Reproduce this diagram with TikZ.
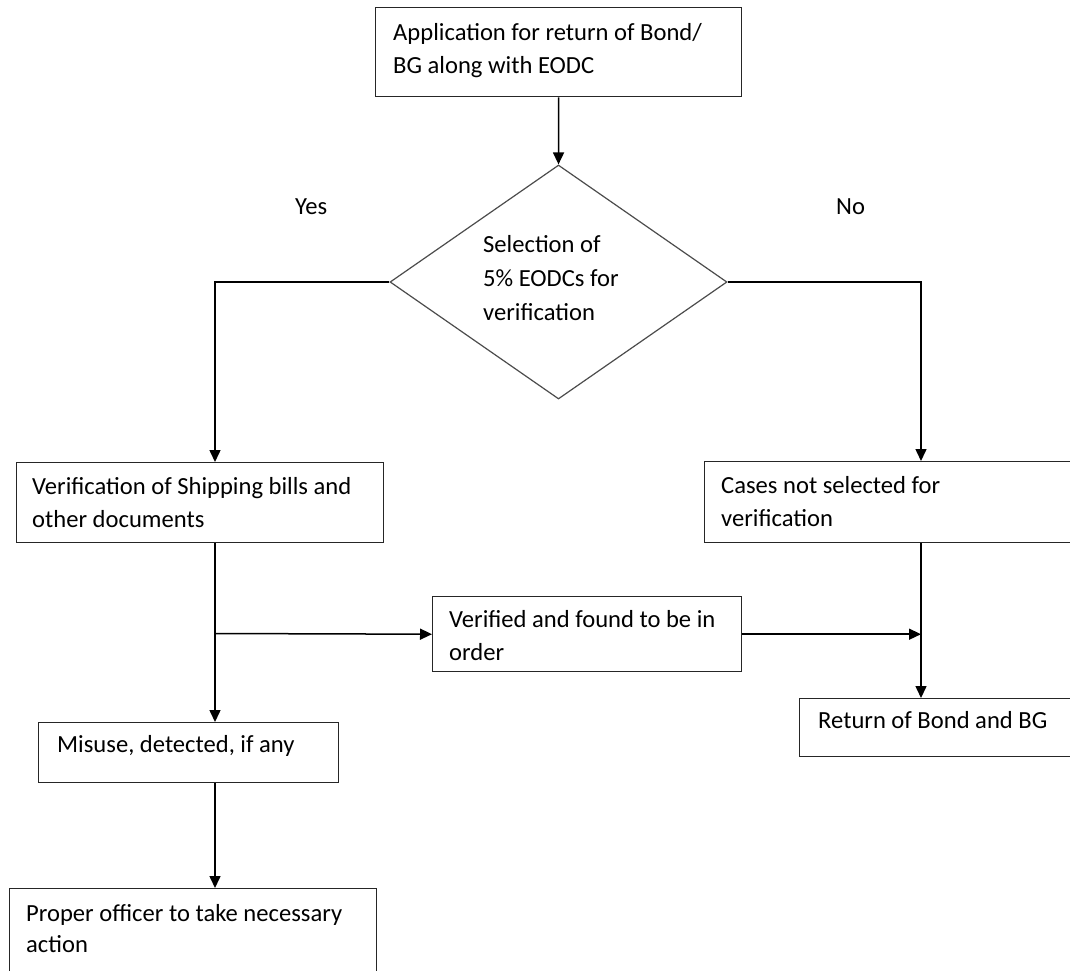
\documentclass[tikz,border=0pt]{standalone}
\usepackage{fontspec}
\setmainfont{Carlito}
\usetikzlibrary{shapes.geometric,arrows.meta}

\newcommand{\flowfont}{\fontsize{24.6}{33}\selectfont}

\tikzset{
  box/.style={draw=black!85, line width=1.4pt, rectangle, inner sep=0pt, anchor=north west},
  decision/.style={draw=black!70, line width=1.2pt, diamond, inner sep=0pt},
  txt/.style={anchor=north west, inner sep=0pt, align=left, font=\flowfont},
  txtline/.style={anchor=base west, inner sep=0pt, font=\flowfont},
  flow/.style={draw=black, line width=1.5pt, -{Triangle[length=12pt,width=11pt]}},
  link/.style={draw=black, line width=1.5pt}
}

\begin{document}
\begin{tikzpicture}[x=1pt, y=-1pt]
  \clip (0,0) rectangle (1070,970);
  \fill[white] (0,0) rectangle (1070,970);

  % boxes (outline only)
  \node[box, minimum width=366pt, minimum height=89pt] (app) at (375,7) {};
  \node[decision, minimum width=337pt, minimum height=234pt] (sel) at (558.5,282) {};
  \node[box, minimum width=367pt, minimum height=80pt] (ver) at (16,462) {};
  \node[box, minimum width=380pt, minimum height=81pt] (cas) at (704,461) {};
  \node[box, minimum width=309pt, minimum height=75pt] (vio) at (432,596) {};
  \node[box, minimum width=300pt, minimum height=60pt] (mis) at (38,722) {};
  \node[box, minimum width=290pt, minimum height=58pt] (ret) at (799,698) {};
  \node[box, minimum width=367pt, minimum height=110pt] (pro) at (9,888) {};

  % box texts
  \node[txt] (tapp) at (393,16.9) {\strut Application for return of Bond/\\BG along with EODC};
  \node[txt, font=\fontsize{24.6}{34}\selectfont] (tsel) at (483,228.9) {\strut Selection of\\5\% EODCs for\\verification};
  \node[txt] (tver) at (32,470.9) {\strut Verification of Shipping bills and\\other documents};
  \node[txt] (tcas) at (721,469.9) {\strut Cases not selected for\\verification};
  \node[txt] (tvio) at (449,603.9) {\strut Verified and found to be in\\order};
  \node[txtline] (tmis) at (57,752) {Misuse, detected, if any};
  \node[txtline] (tret) at (818,728) {Return of Bond and BG};
  \node[txt, font=\fontsize{24.6}{31}\selectfont] (tpro) at (26,899.9) {\strut Proper officer to take necessary\\action};

  % branch labels
  \node[txtline] (yes) at (295,214) {Yes};
  \node[txtline] (no) at (836,214) {No};

  % trunk positions of the two branches
  \coordinate (lx) at (215,0);
  \coordinate (rx) at (921,0);
  \coordinate (split) at (215,633.5);

  % connectors
  \draw[flow] (app.south) -- (sel.north);
  \draw[flow] (sel.west) -| (ver.north -| lx);
  \draw[flow] (sel.east) -| (cas.north -| rx);
  \draw[flow] (ver.south -| lx) -- (mis.north -| lx);
  \draw[flow] (split) -- (vio.west);
  \draw[flow] (vio.east) -- (vio.east -| rx);
  \draw[flow] (cas.south -| rx) -- (ret.north -| rx);
  \draw[flow] (mis.south -| lx) -- (pro.north -| lx);
\end{tikzpicture}
\end{document}
